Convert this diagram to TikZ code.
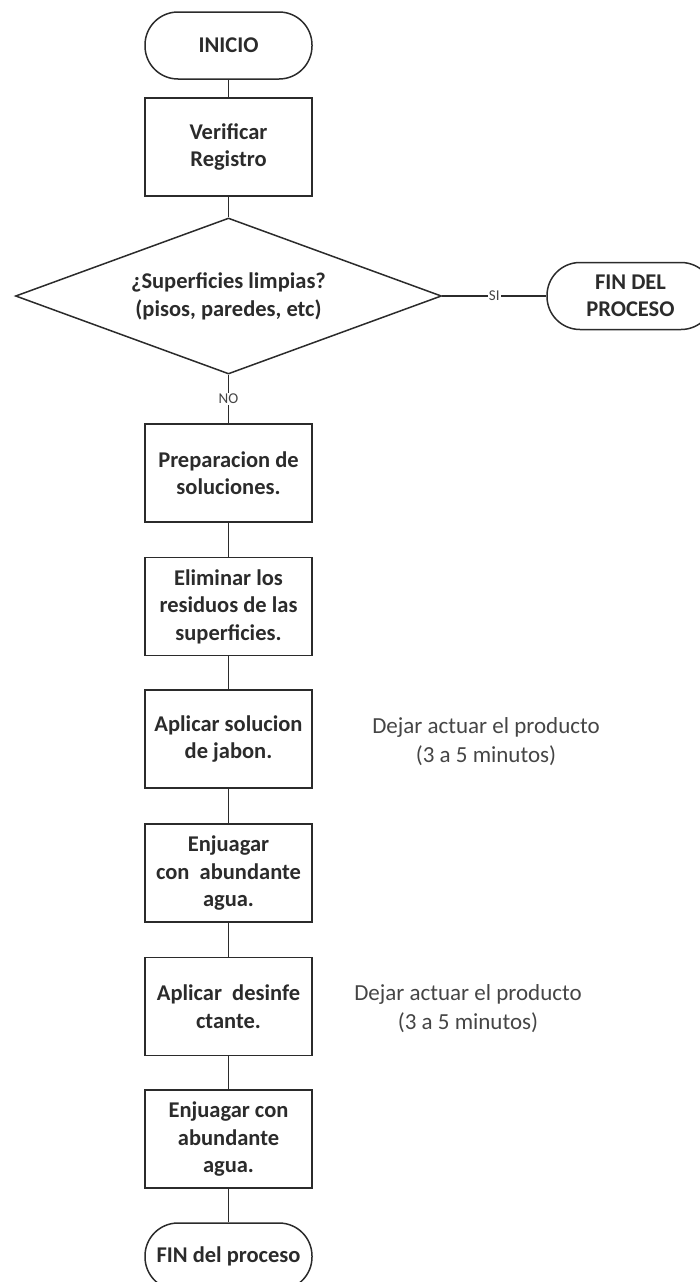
\documentclass[tikz,border=0pt]{standalone}
\usepackage{fontspec}
\setmainfont{Carlito}
\usetikzlibrary{shapes.geometric}
\definecolor{ink}{HTML}{2B2B2B}
\definecolor{note}{HTML}{454545}
\begin{document}
\begin{tikzpicture}[x=1pt,y=-1pt,
  every node/.style={text=ink},
  stepbox/.style={draw=ink, line width=1.5pt, minimum width=167pt, minimum height=98pt,
    align=center, inner sep=2pt, font=\bfseries\fontsize{22.5}{27.5}\selectfont},
  endcap/.style={draw=ink, line width=1.5pt, rectangle, rounded corners=33pt,
    minimum width=167pt, minimum height=67pt, align=center,
    font=\bfseries\fontsize{22.5}{27.5}\selectfont},
  decide/.style={draw=ink, line width=1.5pt, diamond, aspect=2.72, inner sep=0pt,
    minimum width=426pt, minimum height=156pt, align=center,
    font=\bfseries\fontsize{22.5}{28}\selectfont},
  link/.style={draw=ink, line width=1.5pt},
  tag/.style={fill=white, inner sep=1pt, text=note, font=\fontsize{15}{17}\selectfont},
  remark/.style={align=center, text=note, font=\fontsize{23}{29}\selectfont}]
\clip (0,0) rectangle (700,1282);
\useasboundingbox (0,0) rectangle (700,1282);

% main flow
\node[endcap]   (start) at (228.5,45.5)  {INICIO};
\node[stepbox]  (check) at (228.5,147)   {Verificar\\Registro};
\node[decide]   (clean) at (228.5,296)   {¿Superficies limpias?\\(pisos, paredes, etc)};
\node[endcap]   (stop)  at (630.5,296)   {FIN DEL\\PROCESO};
\node[stepbox]  (prep)  at (228.5,473)   {Preparacion de\\soluciones.};
\node[stepbox]  (waste) at (228.5,606.5) {Eliminar los\\residuos de las\\superficies.};
\node[stepbox]  (soap)  at (228.5,739)   {Aplicar solucion\\de jabon.};
\node[stepbox]  (rinse) at (228.5,873)   {Enjuagar\\con\ \ abundante\\agua.};
\node[stepbox]  (disin) at (228.5,1006.5){Aplicar\ \ desinfe\\ctante.};
\node[stepbox]  (rinse2) at (228.5,1139) {Enjuagar con\\abundante\\agua.};
\node[endcap]   (done)  at (228.5,1256.5){FIN del proceso};

% side notes
\node[remark] (wait1) at (486,742)  {Dejar actuar el producto\\(3 a 5 minutos)};
\node[remark] (wait2) at (468,1009) {Dejar actuar el producto\\(3 a 5 minutos)};

% connectors
\draw[link] (start) -- (check);
\draw[link] (check) -- (clean);
\draw[link] (clean.east) -- node[tag]{SI} (stop.west);
\draw[link] (clean.south) -- node[tag]{NO} (prep.north);
\draw[link] (prep) -- (waste);
\draw[link] (waste) -- (soap);
\draw[link] (soap) -- (rinse);
\draw[link] (rinse) -- (disin);
\draw[link] (disin) -- (rinse2);
\draw[link] (rinse2) -- (done);
\end{tikzpicture}
\end{document}
